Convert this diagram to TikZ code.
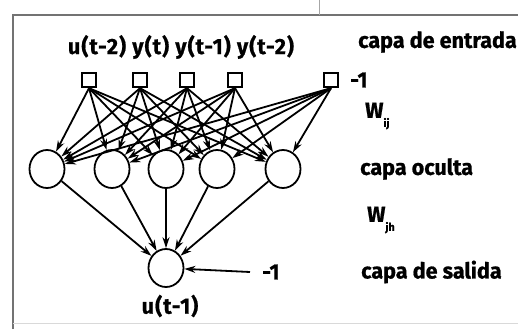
\documentclass[tikz,border=0pt]{standalone}
\usepackage{fontspec}
\newfontfamily\lab[FakeStretch=0.98,BoldFeatures={FakeBold=0.8}]{Fira Sans}
\usetikzlibrary{arrows.meta,shapes.geometric}
\begin{document}
\begin{tikzpicture}[x=1pt,y=-1pt,
  inbox/.style={draw,line width=1.8pt,minimum size=14.5pt,inner sep=0pt},
  neuron/.style={draw,line width=1.8pt,ellipse,minimum width=35pt,minimum height=38pt,inner sep=0pt},
  conn/.style={line width=1.8pt,-{Stealth[length=11pt,width=7pt]}},
  txt/.style={font=\lab\bfseries\fontsize{22}{24}\selectfont,inner sep=0pt},
  frame/.style={line width=1.4pt,black!55}]
\useasboundingbox (0,0) rectangle (518,329);
\draw[frame] (13,329) -- (13,15) -- (518,15);
\draw[frame,black!35,line width=0.6pt] (319,0) -- (319,15);
\draw[frame,black!15,line width=0.6pt] (13,323) -- (518,323);
% input layer
\foreach \i/\x in {1/89,2/140,3/187,4/235,0/331}
  \node[inbox] (in\i) at (\x,80) {};
% hidden layer
\foreach \j/\x in {1/47,2/112,3/166,4/217,5/283}
  \node[neuron] (h\j) at (\x,169) {};
% output
\node[neuron] (out) at (166,268) {};
\coordinate (bias) at (250,272);
% connections
\foreach \i in {1,2,3,4,0}
  \foreach \j in {1,...,5}
    \draw[conn] (in\i.south) -- (h\j);
\foreach \j in {1,...,5}
  \draw[conn] (h\j) -- (out);
\draw[conn] (bias) -- (out);
% labels
\node[txt] (inl) at (181,47) {\addfontfeature{LetterSpace=5}u(t-2) y(t) y(t-1) y(t-2)};
\node[txt,anchor=west] (b1) at (350,80) {-1};
\node[txt,anchor=west] (b2) at (262,272) {-1};
\node[txt] (ul) at (170,306) {\addfontfeature{LetterSpace=5}u(t-1)};
\node[txt,anchor=west] (l1) at (358,42) {capa de entrada};
\node[txt,anchor=west] (wij) at (365,116) {W\raisebox{-9pt}{\fontsize{11}{11}\selectfont ij}};
\node[txt,anchor=west] (l2) at (360,169) {capa oculta};
\node[txt,anchor=west] (wjh) at (367,220) {W\raisebox{-9pt}{\fontsize{11}{11}\selectfont jh}};
\node[txt,anchor=west] (l3) at (361,272) {capa de salida};
\end{tikzpicture}
\end{document}
